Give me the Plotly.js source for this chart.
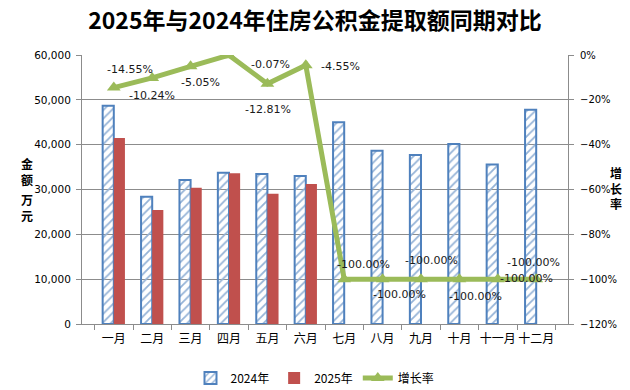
<!DOCTYPE html>
<html>
<head>
<meta charset="utf-8">
<script src="https://cdn.plot.ly/plotly-3.0.1.min.js"></script>
<style>
  html, body { margin: 0; padding: 0; background: #ffffff; }
  #chart { width: 630px; height: 390px; }
</style>
</head>
<body>
<div id="chart"></div>
<script>
const months = ["一月", "二月", "三月", "四月", "五月", "六月", "七月", "八月", "九月", "十月", "十一月", "十二月"];
const amount2024 = [48700, 28400, 32100, 33750, 33450, 33000, 45000, 38650, 37700, 40150, 35550, 47800];
const amount2025 = [41500, 25450, 30400, 33650, 29050, 31250, 0, 0, 0, 0, 0, 0];
const growthRate = [-14.55, -10.24, -5.05, -0.07, -12.81, -4.55, -100, -100, -100, -100, -100, -100];
const growthLabels = ["-14.55%", "-10.24%", "-5.05%", "-0.07%", "-12.81%", "-4.55%",
  "-100.00%", "-100.00%", "-100.00%", "-100.00%", "-100.00%", "-100.00%"];

// where each rate label sits relative to its point (px)
const labelShift = [
  [16, 18], [0, -18], [10, -16], [41, -9], [1, -26], [35, -1],
  [19, 15], [17, -15], [10, 19], [16, -17], [36, 17], [-10, 1]
];

const cjk = "'Noto Sans CJK SC', 'Noto Sans', sans-serif";
const latin = "'DejaVu Sans', Verdana, sans-serif";
const gridGray = "#8c8c8c";

const traces = [
  {
    type: "bar",
    name: "2024年",
    x: months,
    y: amount2024,
    marker: {
      color: "#ffffff",
      line: { color: "#4f81bd", width: 2 },
      pattern: { shape: "/", fgcolor: "#95b3d7", size: 6, solidity: 0.3 }
    },
    hoverinfo: "skip"
  },
  {
    type: "bar",
    name: "2025年",
    x: months,
    y: amount2025,
    marker: { color: "#c0504d", line: { width: 0 } },
    hoverinfo: "skip"
  },
  {
    type: "scatter",
    mode: "lines+markers",
    name: "增长率",
    x: months,
    y: growthRate,
    yaxis: "y2",
    line: { color: "#9bbb59", width: 5 },
    marker: { symbol: "triangle-up", size: 12, color: "#9bbb59" },
    hoverinfo: "skip"
  }
];

const rateAnnotations = months.map((m, i) => ({
  x: m,
  y: growthRate[i],
  xref: "x",
  yref: "y2",
  text: growthLabels[i],
  showarrow: false,
  xshift: labelShift[i][0],
  yshift: labelShift[i][1],
  font: { family: latin, size: 11, color: "#1a1a1a" }
}));

// vertical axis titles, anchored on the plot edge and pushed out in pixels
const titleAnnotations = [
  { text: "金<br>额", edge: 0, dx: 20 - 82, y: 171 },
  { text: "万<br>元", edge: 0, dx: 20 - 82, y: 208 },
  { text: "增<br>长<br>率", edge: 1, dx: 623 - 568, y: 188 }
].map((t) => ({
  text: t.text,
  xref: "paper",
  yref: "paper",
  x: t.edge,
  xshift: t.dx,
  y: (324 - t.y) / 269,
  showarrow: false,
  borderpad: 0,
  font: { family: cjk, size: 12, color: "#000000", weight: "bold" }
}));

const layout = {
  width: 630,
  height: 390,
  margin: { l: 82, r: 62, t: 55, b: 66 },
  paper_bgcolor: "#ffffff",
  plot_bgcolor: "#ffffff",
  barmode: "group",
  bargap: 0.42,
  bargroupgap: 0,
  showlegend: true,
  title: {
    text: "<b>2025年与2024年住房公积金提取额同期对比</b>",
    x: 0.5,
    xref: "container",
    y: 0.946,
    yref: "container",
    yanchor: "middle",
    font: { family: cjk, size: 23, color: "#000000" }
  },
  xaxis: {
    type: "category",
    automargin: false,
    tickangle: 0,
    showline: true,
    linecolor: gridGray,
    ticks: "outside",
    tickson: "boundaries",
    ticklen: 5,
    tickcolor: gridGray,
    ticklabelstandoff: 4,
    tickfont: { family: cjk, size: 12, color: "#000000" },
    showgrid: false
  },
  yaxis: {
    automargin: false,
    range: [0, 60000],
    dtick: 10000,
    tickformat: ",d",
    showline: true,
    linecolor: gridGray,
    ticks: "outside",
    ticklen: 5,
    tickcolor: gridGray,
    ticklabelstandoff: 3,
    gridcolor: gridGray,
    zeroline: false,
    tickfont: { family: latin, size: 10.5, color: "#000000" }
  },
  yaxis2: {
    automargin: false,
    overlaying: "y",
    side: "right",
    range: [-120, 0],
    dtick: 20,
    ticksuffix: "%",
    showline: true,
    linecolor: gridGray,
    ticks: "outside",
    ticklen: 5,
    tickcolor: gridGray,
    ticklabelstandoff: 4,
    showgrid: false,
    zeroline: false,
    tickfont: { family: latin, size: 10, color: "#000000" }
  },
  legend: {
    orientation: "h",
    x: 0.5,
    xanchor: "center",
    xref: "container",
    y: 0.031,
    yref: "container",
    yanchor: "middle",
    font: { family: cjk, size: 12, color: "#000000" },
    itemwidth: 30
  },
  annotations: rateAnnotations.concat(titleAnnotations)
};

Plotly.newPlot("chart", traces, layout, { displayModeBar: false, staticPlot: true });
</script>
</body>
</html>
